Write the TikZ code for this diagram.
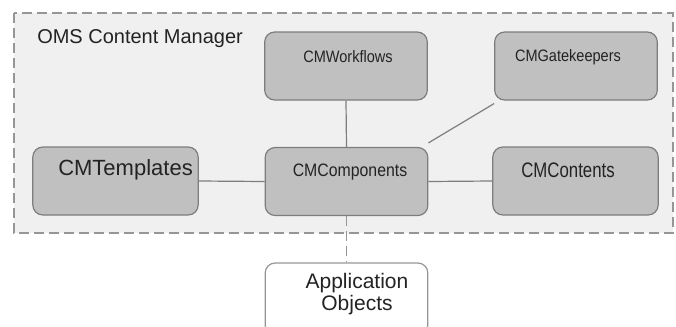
\documentclass[tikz,border=0pt]{standalone}
\usepackage{fontspec}
\setmainfont{Liberation Sans}
\newfontfamily\cmnarrow{Liberation Sans}[FakeStretch=0.88]
\newfontfamily\cmnarrower{Liberation Sans}[FakeStretch=0.8]
\definecolor{pagegray}{RGB}{240,240,240}
\definecolor{boxgray}{RGB}{192,192,192}
\definecolor{edgegray}{RGB}{125,125,125}
\definecolor{dashgray}{RGB}{150,150,150}
\definecolor{inkgray}{RGB}{35,35,35}

\begin{document}
\begin{tikzpicture}[x=0.75pt,y=0.75pt,yscale=-1,xscale=1,
  cmbox/.style={draw=edgegray,fill=boxgray,line width=0.9pt,rounded corners=7.5pt,minimum width=122pt,minimum height=51pt,inner sep=0pt},
  appbox/.style={draw=dashgray,fill=white,line width=0.9pt,rounded corners=7.5pt,minimum width=122pt,minimum height=54pt,inner sep=0pt},
  link/.style={draw=edgegray,line width=0.9pt},
  txt/.style={inner sep=0pt,text=inkgray}]
\useasboundingbox (0,0) rectangle (676,326);

%Shape: Dashed container
\draw [dashgray,fill=pagegray,line width=1.1pt,dash pattern=on 7.5pt off 3.75pt] (14,13) rectangle (673,233);

%Shape: Boxes
\node [cmbox] (wf) at (346,66) {};
\node [cmbox] (gk) at (576,66) {};
\node [cmbox,minimum width=124pt] (tp) at (115.5,181) {};
\node [cmbox] (cp) at (346.5,181.5) {};
\node [cmbox,minimum width=124pt] (ct) at (575.5,181) {};
\node [appbox] (app) at (346.5,299) {};

%Connectors
\draw [link] (wf.south) -- (cp.north);
\draw [link] ([yshift=2.25pt]gk.south west) -- ([yshift=-3pt]cp.north east);
\draw [link] (tp.east) -- (cp.west);
\draw [link] (cp.east) -- (ct.west);
\draw [link,dashgray,dash pattern=on 7.5pt off 3.75pt] (cp.south) -- (app.north);

% Text Node
\node [txt,anchor=west,font=\fontsize{15pt}{18pt}\selectfont] (title) at (37,39) {OMS Content Manager};
% Text Node
\node [txt,anchor=west,font=\fontsize{16.5pt}{19pt}\selectfont] (tptext) at (58,170) {CMTemplates};
% Text Node
\node [txt,font=\cmnarrow\fontsize{12.4pt}{15pt}\selectfont] (wftext) at (348,57) {CMWorkflows};
% Text Node
\node [txt,font=\cmnarrow\fontsize{12.4pt}{15pt}\selectfont] (gktext) at (568,57) {CMGatekeepers};
% Text Node
\node [txt,font=\cmnarrow\fontsize{13.5pt}{16pt}\selectfont] (cptext) at (350,172) {CMComponents};
% Text Node
\node [txt,font=\cmnarrower\fontsize{15.75pt}{18pt}\selectfont] (cttext) at (568,170) {CMContents};
% Text Node
\node [txt,align=center,font=\fontsize{15.75pt}{16.5pt}\selectfont] (apptext) at (357,294) {Application\\Objects};
\end{tikzpicture}
\end{document}
